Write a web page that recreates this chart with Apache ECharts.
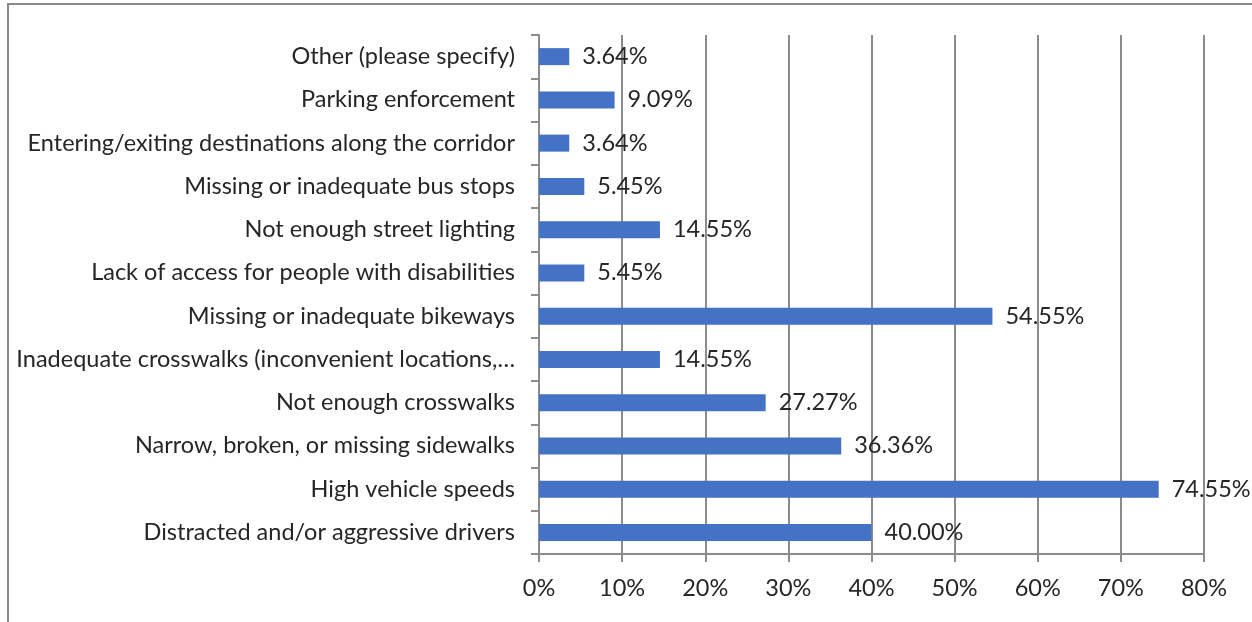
<!DOCTYPE html>
<html>
<head>
<meta charset="utf-8">
<script src="https://cdn.jsdelivr.net/npm/echarts@6/dist/echarts.min.js"></script>
<style>
  html, body { margin: 0; padding: 0; background: #fff; overflow: hidden; }
  #frame { position: absolute; left: 7px; top: 3px; width: 1400px; height: 800px;
           border-left: 2px solid #8a8a8a; border-top: 2px solid #8a8a8a; }
  #chart { position: absolute; left: 0; top: 0; width: 1252px; height: 622px; }
</style>
</head>
<body>
<div id="frame"></div>
<div id="chart"></div>
<script>
// Survey responses, listed bottom-to-top as the category axis draws them
const categories = [
  'Distracted and/or aggressive drivers',
  'High vehicle speeds',
  'Narrow, broken, or missing sidewalks',
  'Not enough crosswalks',
  'Inadequate crosswalks (inconvenient locations,\u2026',
  'Missing or inadequate bikeways',
  'Lack of access for people with disabilities',
  'Not enough street lighting',
  'Missing or inadequate bus stops',
  'Entering/exiting destinations along the corridor',
  'Parking enforcement',
  'Other (please specify)'
];
const shares = [40.00, 74.55, 36.36, 27.27, 14.55, 54.55, 5.45, 14.55, 5.45, 3.64, 9.09, 3.64];
const axisTicks = [0, 10, 20, 30, 40, 50, 60, 70, 80];

const FONT = 'Lato, "Open Sans", sans-serif';
const FONT_SIZE = 23.5;
const TEXT = '#262626';
const LINE = '#8c8c8c';

const chart = echarts.init(document.getElementById('chart'), null, { renderer: 'canvas' });
chart.setOption({
  animation: false,
  grid: { left: 539, right: 48, top: 35, bottom: 68, containLabel: false },
  xAxis: {
    type: 'value',
    min: axisTicks[0],
    max: axisTicks[axisTicks.length - 1],
    interval: 10,
    axisLine: { show: true, lineStyle: { color: LINE, width: 2 } },
    axisTick: { show: true, length: 8, lineStyle: { color: LINE, width: 2 } },
    splitLine: { show: true, lineStyle: { color: LINE, width: 2 } },
    axisLabel: { formatter: v => v + '%', color: TEXT, fontFamily: FONT, fontSize: FONT_SIZE, margin: 22 }
  },
  yAxis: {
    type: 'category',
    data: categories,
    axisLine: { show: true, lineStyle: { color: LINE, width: 2 } },
    axisTick: { show: true, length: 8, lineStyle: { color: LINE, width: 2 } },
    axisLabel: { color: TEXT, fontFamily: FONT, fontSize: FONT_SIZE, margin: 24 }
  },
  series: [{
    type: 'bar',
    data: shares,
    barWidth: 17,
    itemStyle: { color: '#4472c4' },
    label: {
      show: true,
      position: 'right',
      distance: 13,
      color: TEXT,
      fontFamily: FONT,
      fontSize: FONT_SIZE,
      formatter: p => p.value.toFixed(2) + '%'
    }
  }]
});
</script>
</body>
</html>
